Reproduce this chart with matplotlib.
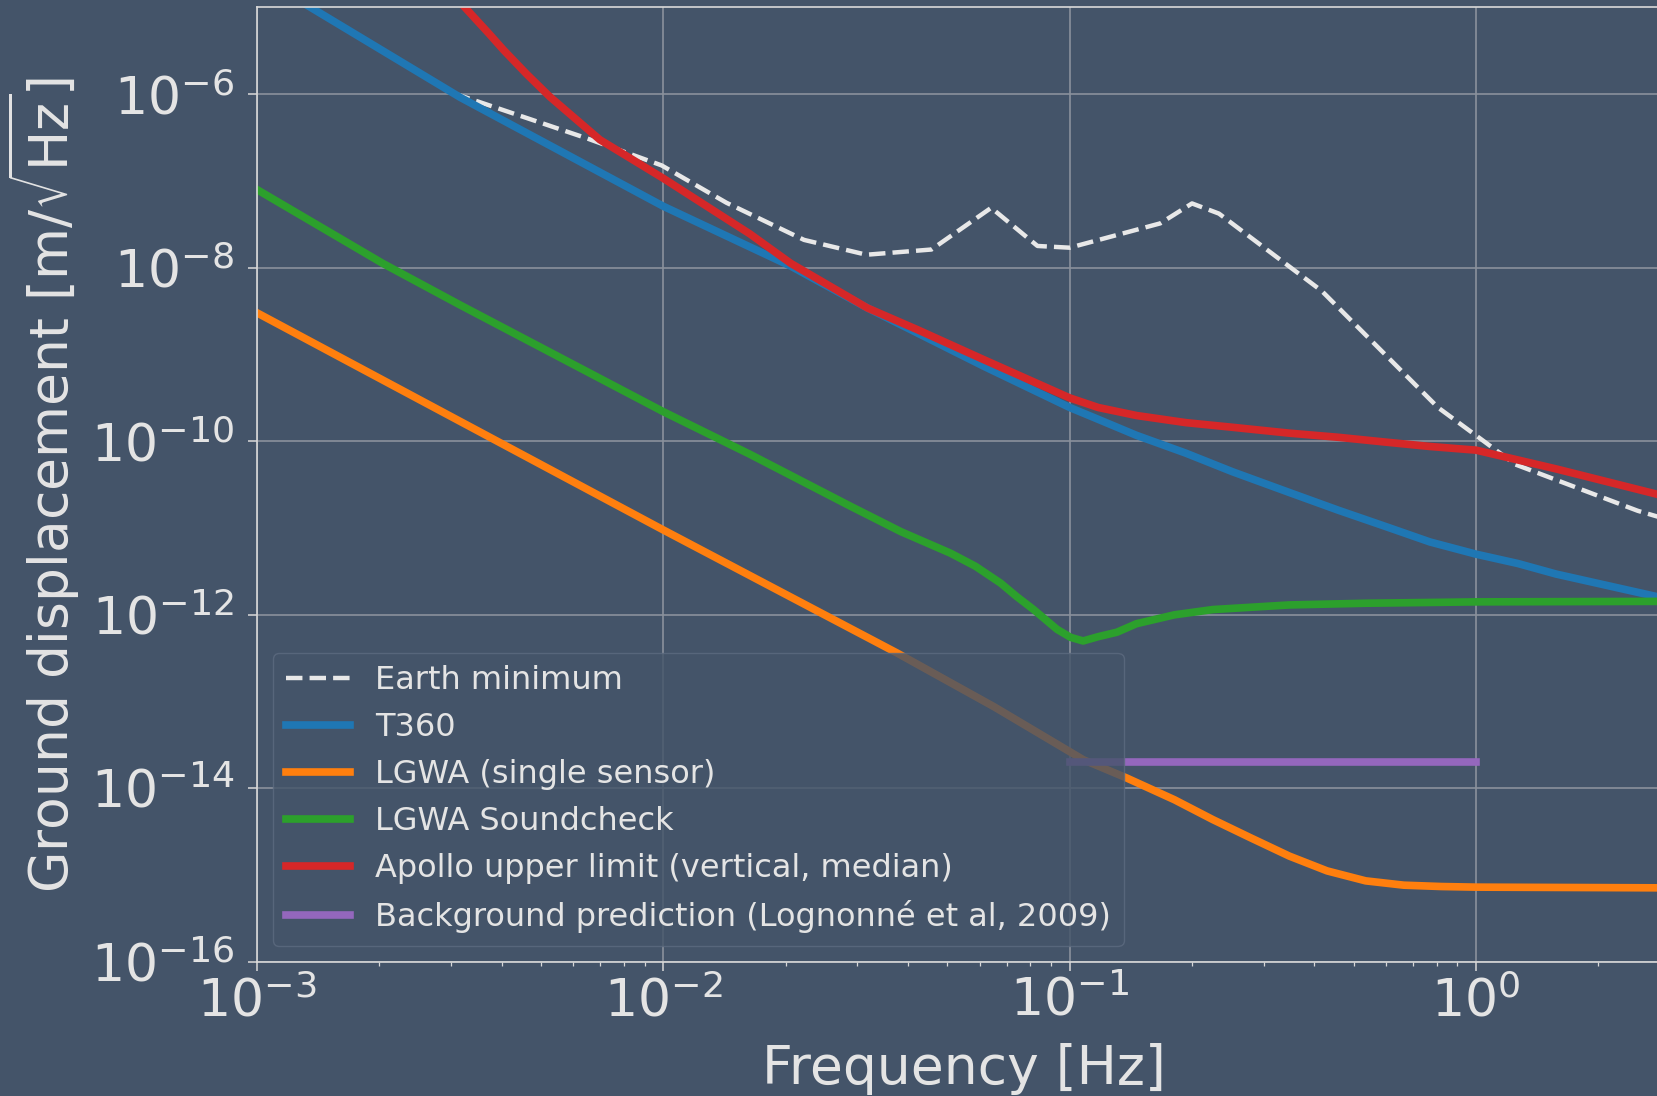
import matplotlib.pyplot as plt
from matplotlib.ticker import NullLocator

bg = '#445469'
fg = '#e4e4e4'

# Data: frequency [Hz] and ground displacement [m/sqrt(Hz)]
earth_f = [3.05e-3, 6.49e-3, 9.9e-3, 1.43e-2, 2.22e-2, 3.16e-2, 4.57e-2, 6.41e-2,
           8.33e-2, 0.1, 0.167, 0.2, 0.233, 0.417, 0.806, 1.25, 2.5, 3.0]
earth_d = [1.02e-6, 3.09e-7, 1.51e-7, 5.6e-8, 2.09e-8, 1.41e-8, 1.62e-8, 4.9e-8,
           1.78e-8, 1.7e-8, 3.24e-8, 5.5e-8, 4.2e-8, 5.4e-9, 2.45e-10, 5.4e-11, 1.58e-11, 1.23e-11]

t360_f = [1.2e-3, 1.39e-3, 3.16e-3, 1e-2, 2.06e-2, 3.18e-2, 6.15e-2, 0.1, 0.1175, 0.146,
          0.193, 0.251, 0.347, 0.459, 0.596, 0.771, 1.0, 1.268, 1.574, 3.0]
t360_d = [1.41e-5, 9.3e-6, 9.2e-7, 5.1e-8, 1.04e-8, 3.43e-9, 7.3e-10, 2.45e-10, 1.79e-10, 1.17e-10,
          7.3e-11, 4.47e-11, 2.57e-11, 1.6e-11, 1.05e-11, 6.9e-12, 5.0e-12, 3.9e-12, 2.95e-12, 1.5e-12]

lgwa_f = [1e-3, 1e-2, 3.76e-2, 6.52e-2, 0.108, 0.138, 0.181, 0.225, 0.279, 0.347,
          0.43, 0.535, 0.664, 0.822, 1.0, 3.0]
lgwa_d = [3.02e-9, 9.5e-12, 3.63e-13, 8.7e-14, 2.14e-14, 1.32e-14, 7.4e-15, 4.37e-15, 2.69e-15, 1.66e-15,
          1.12e-15, 8.6e-16, 7.67e-16, 7.4e-16, 7.28e-16, 7.14e-16]

sound_f = [1e-3, 2.04e-3, 3.16e-3, 1e-2, 1.633e-2, 2.89e-2, 3.84e-2, 5.09e-2, 5.86e-2, 6.76e-2,
           7.41e-2, 8.15e-2, 9.31e-2, 0.1005, 0.1079, 0.1175, 0.1306, 0.146, 0.181, 0.225,
           0.347, 0.535, 1.0, 3.0]
sound_d = [7.94e-8, 1.12e-8, 3.72e-9, 2.19e-10, 7.08e-11, 1.78e-11, 9.1e-12, 5.13e-12, 3.63e-12, 2.32e-12,
           1.62e-12, 1.15e-12, 6.8e-13, 5.5e-13, 5.0e-13, 5.6e-13, 6.3e-13, 7.9e-13, 1.0e-12, 1.15e-12,
           1.3e-12, 1.36e-12, 1.41e-12, 1.43e-12]

apollo_f = [2.9e-3, 3.28e-3, 3.72e-3, 4.04e-3, 4.61e-3, 5.26e-3, 6.98e-3, 1e-2,
            1.633e-2, 2.06e-2, 3.18e-2, 4.22e-2, 6.15e-2, 7.41e-2, 0.1, 0.1175, 0.146,
            0.193, 0.251, 0.347, 0.459, 0.596, 0.771, 1.0, 1.574, 3.0]
apollo_d = [1.8e-5, 9.5e-6, 5.0e-6, 3.24e-6, 1.7e-6, 9.3e-7, 2.98e-7, 1.07e-7,
            2.45e-8, 1.12e-8, 3.43e-9, 1.93e-9, 8.7e-10, 5.9e-10, 3.16e-10, 2.45e-10, 1.98e-10,
            1.64e-10, 1.45e-10, 1.24e-10, 1.11e-10, 9.8e-11, 8.7e-11, 7.9e-11, 4.8e-11, 2.25e-11]

bkg_f = [0.1, 1.0]
bkg_d = [2.0e-14, 2.0e-14]

y_ticks = [1e-16, 1e-14, 1e-12, 1e-10, 1e-8, 1e-6]

fig = plt.figure(figsize=(16.58, 10.96), dpi=100, facecolor=bg)
ax = fig.add_axes([0.155, 0.1223, 0.8522, 0.871])
ax.set_facecolor(bg)

ax.loglog(earth_f, earth_d, '--', color='#e8e8e8', lw=3.2, label='Earth minimum')
ax.loglog(t360_f, t360_d, color='#1f77b4', lw=5.5, label='T360')
ax.loglog(lgwa_f, lgwa_d, color='#ff7f0e', lw=5.5, label='LGWA (single sensor)')
ax.loglog(sound_f, sound_d, color='#2ca02c', lw=5.5, label='LGWA Soundcheck')
ax.loglog(apollo_f, apollo_d, color='#d62728', lw=5.5, label='Apollo upper limit (vertical, median)')
ax.loglog(bkg_f, bkg_d, color='#9467bd', lw=5.5, label='Background prediction (Lognonné et al, 2009)')

ax.set_xlim(1e-3, 3)
ax.set_ylim(1e-16, 1e-5)
ax.set_yticks(y_ticks)
ax.yaxis.set_minor_locator(NullLocator())

ax.grid(True, which='major', color='#8a919c', lw=1.2)
for s in ax.spines.values():
    s.set_color('#d9d9d9')
    s.set_linewidth(1.2)

ax.tick_params(which='major', length=6.7, width=1.1, color='#d9d9d9',
               labelcolor=fg, labelsize=37.5)
ax.tick_params(which='minor', length=3, width=0.9, color='#d9d9d9')
ax.tick_params(axis='y', which='major', pad=9.5)

ax.set_xlabel('Frequency [Hz]', fontsize=38.5, color=fg, labelpad=11.5)
ax.set_ylabel(r'Ground displacement [m/$\sqrt{\mathrm{Hz}}$]', fontsize=38.5, color=fg, labelpad=6)

leg = ax.legend(loc='lower left', fontsize=23, facecolor=bg, edgecolor='#5d6b80',
                framealpha=0.8, labelcolor=fg)

fig.savefig('out.png', dpi=100, facecolor=bg)
